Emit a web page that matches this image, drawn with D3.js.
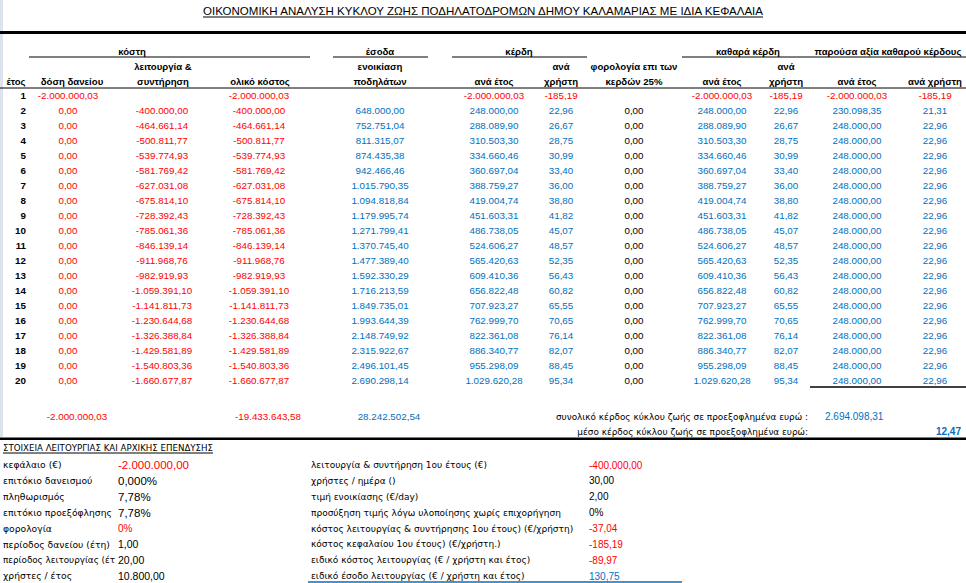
<!DOCTYPE html>
<html><head><meta charset="utf-8">
<script src="https://cdn.jsdelivr.net/npm/d3@7"></script>
<style>html,body{margin:0;padding:0;background:#fff;}svg{display:block}</style>
</head><body>
<script>
// ---------------- DATA ----------------
const title = "ΟΙΚΟΝΟΜΙΚΗ ΑΝΑΛΥΣΗ ΚΥΚΛΟΥ ΖΩΗΣ ΠΟΔΗΛΑΤΟΔΡΟΜΩΝ ΔΗΜΟΥ ΚΑΛΑΜΑΡΙΑΣ ΜΕ ΙΔΙΑ ΚΕΦΑΛΑΙΑ";
const years = [1,2,3,4,5,6,7,8,9,10,11,12,13,14,15,16,17,18,19,20];
const loanPayment = [-2000000.03,0,0,0,0,0,0,0,0,0,0,0,0,0,0,0,0,0,0,0];
const operation = [null,-400000.00,-464661.14,-500811.77,-539774.93,-581769.42,-627031.08,-675814.10,-728392.43,-785061.36,-846139.14,-911968.76,-982919.93,-1059391.10,-1141811.73,-1230644.68,-1326388.84,-1429581.89,-1540803.36,-1660677.87];
const totalCost = [-2000000.03,-400000.00,-464661.14,-500811.77,-539774.93,-581769.42,-627031.08,-675814.10,-728392.43,-785061.36,-846139.14,-911968.76,-982919.93,-1059391.10,-1141811.73,-1230644.68,-1326388.84,-1429581.89,-1540803.36,-1660677.87];
const rentalIncome = [null,648000.00,752751.04,811315.07,874435.38,942466.46,1015790.35,1094818.84,1179995.74,1271799.41,1370745.40,1477389.40,1592330.29,1716213.59,1849735.01,1993644.39,2148749.92,2315922.67,2496101.45,2690298.14];
const profitPerYear = [-2000000.03,248000.00,288089.90,310503.30,334660.46,360697.04,388759.27,419004.74,451603.31,486738.05,524606.27,565420.63,609410.36,656822.48,707923.27,762999.70,822361.08,886340.77,955298.09,1029620.28];
const profitPerUser = [-185.19,22.96,26.67,28.75,30.99,33.40,36.00,38.80,41.82,45.07,48.57,52.35,56.43,60.82,65.55,70.65,76.14,82.07,88.45,95.34];
const taxValues = [null,0,0,0,0,0,0,0,0,0,0,0,0,0,0,0,0,0,0,0];
const netPerYear = [-2000000.03,248000.00,288089.90,310503.30,334660.46,360697.04,388759.27,419004.74,451603.31,486738.05,524606.27,565420.63,609410.36,656822.48,707923.27,762999.70,822361.08,886340.77,955298.09,1029620.28];
const netPerUser = [-185.19,22.96,26.67,28.75,30.99,33.40,36.00,38.80,41.82,45.07,48.57,52.35,56.43,60.82,65.55,70.65,76.14,82.07,88.45,95.34];
const pvPerYear = [-2000000.03,230098.35,248000.00,248000.00,248000.00,248000.00,248000.00,248000.00,248000.00,248000.00,248000.00,248000.00,248000.00,248000.00,248000.00,248000.00,248000.00,248000.00,248000.00,248000.00];
const pvPerUser = [-185.19,21.31,22.96,22.96,22.96,22.96,22.96,22.96,22.96,22.96,22.96,22.96,22.96,22.96,22.96,22.96,22.96,22.96,22.96,22.96];

const groupHeaders = ["κόστη","έσοδα","κέρδη","καθαρά κέρδη","παρούσα αξία καθαρού κέρδους"];
const subHeaders1 = ["", "", "λειτουργία &", "", "ενοικίαση", "", "ανά", "φορολογία επι των", "", "ανά", "", ""];
const subHeaders2 = ["έτος", "δόση δανείου", "συντήρηση", "ολικό κόστος", "ποδηλάτων", "ανά έτος", "χρήστη", "κερδών 25%", "ανά έτος", "χρήστη", "ανά έτος", "ανά χρήστη"];

const columnTotals = [-2000000.03, -19433643.58, 28242502.54];
const summaryLabels = ["συνολικό κέρδος κύκλου ζωής σε προεξοφλημένα ευρώ :", "μέσο κέρδος κύκλου ζωής σε προεξοφλημένα ευρώ:"];
const summaryValues = [2694098.31, 12.47];

const paramsTitle = "ΣΤΟΙΧΕΙΑ ΛΕΙΤΟΥΡΓΙΑΣ ΚΑΙ ΑΡΧΙΚΗΣ ΕΠΕΝΔΥΣΗΣ";
const leftLabels = ["κεφάλαιο (€)","επιτόκιο δανεισμού","πληθωρισμός","επιτόκιο προεξόφλησης","φορολογία","περίοδος δανείου (έτη)","περίοδος λειτουργίας (έτ","χρήστες / έτος"];
const leftValues = [-2000000.00, 0, 0.0778, 0.0778, 0, 1.00, 20.00, 10800.00];
const rightLabels = ["λειτουργία & συντήρηση 1ου έτους (€)","χρήστες / ημέρα ()","τιμή ενοικίασης (€/day)","προσύξηση τιμής λόγω υλοποίησης χωρίς επιχορήγηση","κόστος λειτουργίας & συντήρησης 1ου έτους) (€/χρήστη)","κόστος κεφαλαίου 1ου έτους) (€/χρήστη.)","ειδικό κόστος λειτουργίας (€ / χρήστη και έτος)","ειδικό έσοδο λειτουργίας (€ / χρήστη και έτος)"];
const rightValues = [-400000.00, 30.00, 2.00, 0, -37.04, -185.19, -89.97, 130.75];

// ---------------- STYLE / LAYOUT ----------------
const RED = "#ff0000", BLUE = "#0070c0", BLACK = "#000";
const TF = "'Liberation Sans', Arial, sans-serif";
const LF = "'DejaVu Sans', Verdana, sans-serif";
const W = 966, H = 583;

const loc = d3.formatLocale({decimal: ",", thousands: ".", grouping: [3], currency: ["", "€"], minus: "-"});
const f2 = loc.format(",.2f");
const fmtByKind = {num: loc.format(",.2f"), p3: loc.format(".3%"), p2: loc.format(".2%"), p0: loc.format(".0%")};
const leftKinds = ["num","p3","p2","p2","p0","num","num","num"];
const rightKinds = ["num","num","num","p0","num","num","num","num"];
const leftColors = [RED, BLACK, BLACK, BLACK, RED, BLACK, BLACK, BLACK];
const leftSizes = [11.5, 11.5, 11.5, 11.5, 10, 10.5, 10.5, 10.5];
const rightColors = [RED, BLACK, BLACK, BLACK, RED, RED, RED, BLUE];

const colKeys = ["year","loan","oper","total","rev","profY","profU","tax","netY","netU","pvY","pvU"];
const colSeries = [years, loanPayment, operation, totalCost, rentalIncome, profitPerYear, profitPerUser, taxValues, netPerYear, netPerUser, pvPerYear, pvPerUser];
const colColors = [BLACK, RED, RED, RED, BLUE, BLUE, BLUE, BLACK, BLUE, BLUE, BLUE, BLUE];
const xVal = d3.scaleOrdinal().domain(colKeys).range([26, 68, 162, 259, 380, 494, 561, 634, 722, 786, 857, 935]);
const xHead = d3.scaleOrdinal().domain(colKeys).range([16, 72, 163, 260, 380, 494, 561, 634, 722, 786, 857, 935]);
const groupX = [132, 380, 519, 748, 888];
const groupLines = [[29, 310], [333, 428], [452, 587], [682, 966]];

const y = d3.scaleBand().domain(years).range([88, 388]).paddingInner(0);
const yParam = d3.scaleLinear().domain([0, leftLabels.length - 1]).range([465, 576]);

// ---------------- DRAW ----------------
const svg = d3.select("body").append("svg").attr("width", W).attr("height", H);
svg.append("rect").attr("width", W).attr("height", H).attr("fill", "#fff");
svg.append("rect").attr("x", 0).attr("y", 0).attr("width", 3).attr("height", 437).attr("fill", "#dce3ec");

// title
svg.append("text").attr("x", W / 2).attr("y", 15).attr("text-anchor", "middle")
  .attr("font-family", TF).attr("font-size", 11.4).attr("textLength", 560).attr("lengthAdjust", "spacingAndGlyphs")
  .text(title);
svg.append("line").attr("x1", 203).attr("x2", 763).attr("y1", 17).attr("y2", 17).attr("stroke", BLACK).attr("stroke-width", 1);

// thick top rule
svg.append("line").attr("x1", 0).attr("x2", W).attr("y1", 32.5).attr("y2", 32.5).attr("stroke", BLACK).attr("stroke-width", 3);

// group headers
const hdr = svg.append("g").attr("font-family", TF).attr("font-size", 9.6).attr("font-weight", "bold").attr("fill", BLACK);
hdr.selectAll("text.grp").data(groupHeaders).join("text").attr("class", "grp")
  .attr("x", (d, i) => groupX[i]).attr("y", 52).attr("dy", "0.35em").attr("text-anchor", "middle").text(d => d);
svg.selectAll("line.grp").data(groupLines).join("line").attr("class", "grp")
  .attr("x1", d => d[0]).attr("x2", d => d[1]).attr("y1", 57).attr("y2", 57).attr("stroke", BLACK).attr("stroke-width", 1);
hdr.selectAll("text.s1").data(subHeaders1.map((t, i) => ({t, k: colKeys[i]})).filter(d => d.t)).join("text").attr("class", "s1")
  .attr("x", d => xHead(d.k)).attr("y", 66.5).attr("dy", "0.35em").attr("text-anchor", "middle").text(d => d.t);
hdr.selectAll("text.s2").data(subHeaders2.map((t, i) => ({t, k: colKeys[i]}))).join("text").attr("class", "s2")
  .attr("x", d => xHead(d.k)).attr("y", 81.7).attr("dy", "0.35em").attr("text-anchor", "middle").text(d => d.t);
svg.append("line").attr("x1", 0).attr("x2", W).attr("y1", 88).attr("y2", 88).attr("stroke", BLACK).attr("stroke-width", 1);

// body cells
const body = svg.append("g").attr("font-family", TF).attr("font-size", 9.8);
colKeys.forEach((k, ci) => {
  const cells = colSeries[ci].map((v, i) => ({v, yr: years[i]})).filter(d => d.v !== null);
  const sel = body.selectAll("text.c" + k).data(cells).join("text").attr("class", "c" + k)
    .attr("y", d => y(d.yr) + y.bandwidth() / 2 + 0.3).attr("dy", "0.35em");
  if (k === "year") {
    sel.attr("x", xVal(k)).attr("text-anchor", "end").attr("font-weight", "bold").attr("fill", BLACK).text(d => d.v);
  } else {
    sel.attr("x", xVal(k)).attr("text-anchor", "middle")
      .attr("fill", d => d.v < 0 ? RED : colColors[ci]).text(d => f2(d.v));
  }
});
svg.append("line").attr("x1", 810).attr("x2", W).attr("y1", 387).attr("y2", 387).attr("stroke", BLACK).attr("stroke-width", 1.3);

// totals
const totX = [77, 268, 389];
body.selectAll("text.tot").data(columnTotals).join("text").attr("class", "tot")
  .attr("x", (d, i) => totX[i]).attr("y", 416.7).attr("dy", "0.35em").attr("text-anchor", "middle")
  .attr("fill", d => d < 0 ? RED : BLUE).text(d => f2(d));

// summary
svg.selectAll("text.sl").data(summaryLabels).join("text").attr("class", "sl")
  .attr("x", 808).attr("y", (d, i) => 416.7 + i * 15).attr("dy", "0.35em").attr("text-anchor", "end")
  .attr("font-family", LF).attr("font-size", 8.9).attr("fill", BLACK).text(d => d);
svg.append("text").attr("x", 825).attr("y", 416.7).attr("dy", "0.35em").attr("font-family", TF).attr("font-size", 10)
  .attr("fill", BLUE).text(f2(summaryValues[0]));
svg.append("text").attr("x", 961).attr("y", 431.7).attr("dy", "0.35em").attr("text-anchor", "end").attr("font-family", TF)
  .attr("font-size", 10).attr("font-weight", "bold").attr("fill", BLUE).text(f2(summaryValues[1]));

svg.append("line").attr("x1", 0).attr("x2", W).attr("y1", 438.8).attr("y2", 438.8).attr("stroke", BLACK).attr("stroke-width", 2.5);

// parameters block
svg.append("text").attr("x", 3).attr("y", 448.3).attr("dy", "0.35em").attr("font-family", LF).attr("font-size", 9)
  .attr("textLength", 210).attr("lengthAdjust", "spacingAndGlyphs").text(paramsTitle);
svg.append("line").attr("x1", 3).attr("x2", 213).attr("y1", 453).attr("y2", 453).attr("stroke", BLACK).attr("stroke-width", 1);

svg.selectAll("text.ll").data(leftLabels).join("text").attr("class", "ll")
  .attr("x", 3).attr("y", (d, i) => yParam(i)).attr("dy", "0.35em").attr("font-family", LF).attr("font-size", 9.2)
  .attr("fill", BLACK)
  .attr("textLength", (d, i) => i === 6 ? 112 : null).attr("lengthAdjust", "spacingAndGlyphs")
  .text(d => d);
svg.selectAll("text.lv").data(leftValues).join("text").attr("class", "lv")
  .attr("x", 118).attr("y", (d, i) => yParam(i)).attr("dy", "0.35em").attr("font-family", TF)
  .attr("font-size", (d, i) => leftSizes[i]).attr("fill", (d, i) => leftColors[i])
  .text((d, i) => fmtByKind[leftKinds[i]](d));

svg.selectAll("text.rl").data(rightLabels).join("text").attr("class", "rl")
  .attr("x", 311).attr("y", (d, i) => yParam(i)).attr("dy", "0.35em").attr("font-family", LF).attr("font-size", 9)
  .attr("fill", BLACK).text(d => d);
svg.selectAll("text.rv").data(rightValues).join("text").attr("class", "rv")
  .attr("x", 589).attr("y", (d, i) => yParam(i)).attr("dy", "0.35em").attr("font-family", TF).attr("font-size", 10)
  .attr("fill", (d, i) => rightColors[i]).text((d, i) => fmtByKind[rightKinds[i]](d));
svg.append("line").attr("x1", 308).attr("x2", 682).attr("y1", 582).attr("y2", 582).attr("stroke", BLUE).attr("stroke-width", 1.5);
</script>
</body></html>
